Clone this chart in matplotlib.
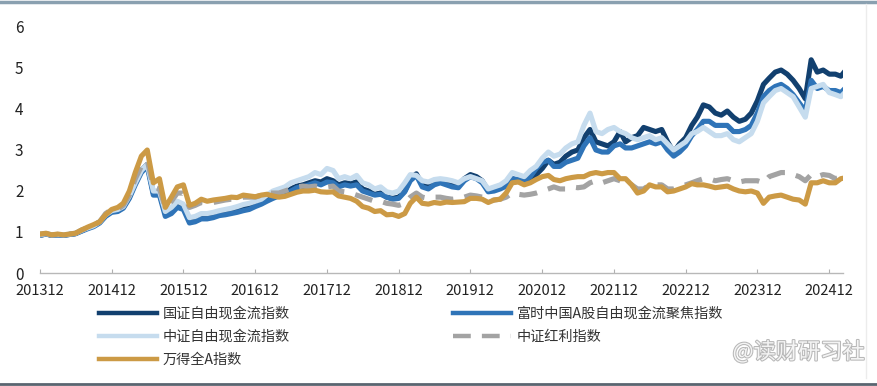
import numpy as np
import pandas as pd
import matplotlib.pyplot as plt
import matplotlib.patheffects as pe
from matplotlib.lines import Line2D

plt.rcParams['font.family'] = ['Noto Sans CJK SC', 'DejaVu Sans']

# monthly values, 2013-12 .. 2025-03
dates = pd.date_range('2013-12-31', periods=136, freq='ME')
tick_labels = ['201312', '201412', '201512', '201612', '201712', '201812',
               '201912', '202012', '202112', '202212', '202312', '202412']

guozheng_fcf = [
    0.92, 0.95, 0.92, 0.93, 0.92, 0.94, 0.96, 1.03, 1.10, 1.15, 1.25, 1.40, 1.50,
    1.52, 1.60, 1.85, 2.20, 2.50, 2.65, 1.95, 1.95, 1.45, 1.55, 1.70, 1.62,
    1.30, 1.30, 1.38, 1.38, 1.40, 1.45, 1.48, 1.50, 1.52, 1.57, 1.60, 1.65,
    1.70, 1.78, 1.85, 1.90, 1.95, 2.05, 2.12, 2.15, 2.20, 2.25, 2.22, 2.30,
    2.25, 2.15, 2.20, 2.18, 2.22, 2.05, 2.00, 1.92, 1.95, 1.85, 1.82, 1.85,
    2.00, 2.30, 2.42, 2.15, 2.10, 2.20, 2.25, 2.20, 2.15, 2.12, 2.30, 2.40,
    2.35, 2.25, 2.00, 2.05, 2.10, 2.15, 2.30, 2.25, 2.20, 2.25, 2.40, 2.55,
    2.75, 2.65, 2.70, 2.85, 2.95, 3.00, 3.30, 3.50, 3.20, 3.15, 3.10, 3.20,
    3.45, 3.20, 3.30, 3.35, 3.55, 3.50, 3.45, 3.50, 3.20, 2.95, 3.15, 3.30,
    3.60, 3.80, 4.10, 4.05, 3.90, 3.85, 3.95, 3.80, 3.70, 3.75, 3.90, 4.20,
    4.60, 4.75, 4.90, 4.95, 4.85, 4.70, 4.50, 4.25, 5.20, 4.90, 4.95, 4.85,
    4.85, 4.80, 4.98]

ftse_fcf = [
    0.92, 0.95, 0.92, 0.93, 0.92, 0.94, 0.96, 1.02, 1.08, 1.13, 1.22, 1.38, 1.48,
    1.50, 1.58, 1.82, 2.15, 2.45, 2.60, 1.90, 1.90, 1.38, 1.45, 1.60, 1.55,
    1.22, 1.25, 1.32, 1.32, 1.35, 1.40, 1.42, 1.45, 1.48, 1.52, 1.55, 1.62,
    1.68, 1.75, 1.82, 1.88, 1.92, 2.00, 2.08, 2.10, 2.15, 2.20, 2.15, 2.22,
    2.20, 2.10, 2.15, 2.12, 2.15, 2.00, 1.95, 1.90, 1.92, 1.85, 1.80, 1.82,
    1.98, 2.25, 2.38, 2.10, 2.05, 2.15, 2.20, 2.15, 2.10, 2.08, 2.25, 2.35,
    2.30, 2.20, 1.98, 2.00, 2.05, 2.12, 2.30, 2.28, 2.25, 2.35, 2.55, 2.70,
    2.75, 2.60, 2.60, 2.70, 2.75, 2.80, 3.10, 3.30, 3.00, 2.95, 2.95, 3.10,
    3.15, 3.05, 3.05, 3.10, 3.15, 3.20, 3.15, 3.20, 3.00, 2.85, 2.95, 3.10,
    3.35, 3.50, 3.70, 3.70, 3.60, 3.60, 3.60, 3.45, 3.45, 3.50, 3.60, 3.90,
    4.30, 4.45, 4.55, 4.60, 4.50, 4.35, 4.15, 3.95, 4.70, 4.50, 4.55, 4.45,
    4.45, 4.40, 4.55]

csi_fcf = [
    0.93, 0.96, 0.93, 0.94, 0.93, 0.95, 0.97, 1.04, 1.10, 1.15, 1.25, 1.42, 1.52,
    1.55, 1.62, 1.88, 2.20, 2.50, 2.65, 2.00, 2.00, 1.50, 1.60, 1.75, 1.68,
    1.35, 1.38, 1.45, 1.45, 1.48, 1.52, 1.55, 1.58, 1.62, 1.67, 1.70, 1.75,
    1.80, 1.90, 2.00, 2.05, 2.10, 2.20, 2.25, 2.30, 2.35, 2.45, 2.40, 2.55,
    2.50, 2.30, 2.35, 2.30, 2.38, 2.20, 2.15, 2.05, 2.10, 1.98, 1.95, 2.00,
    2.20, 2.40, 2.38, 2.25, 2.22, 2.28, 2.30, 2.28, 2.25, 2.20, 2.30, 2.35,
    2.30, 2.25, 2.05, 2.10, 2.15, 2.25, 2.45, 2.40, 2.35, 2.50, 2.60, 2.80,
    2.95, 2.85, 2.90, 3.05, 3.15, 3.20, 3.60, 3.90, 3.45, 3.40, 3.50, 3.55,
    3.45, 3.40, 3.30, 3.25, 3.30, 3.35, 3.25, 3.30, 3.15, 3.00, 3.10, 3.20,
    3.40, 3.45, 3.55, 3.45, 3.35, 3.35, 3.40, 3.25, 3.20, 3.30, 3.40, 3.70,
    4.15, 4.30, 4.45, 4.50, 4.40, 4.30, 4.05, 3.80, 4.50, 4.55, 4.60, 4.40,
    4.35, 4.30, 4.45]

csi_dividend = [
    0.95, 0.96, 0.93, 0.94, 0.93, 0.95, 0.97, 1.05, 1.10, 1.15, 1.25, 1.45, 1.55,
    1.55, 1.65, 1.90, 2.30, 2.60, 2.75, 2.10, 2.05, 1.60, 1.75, 1.95, 1.95,
    1.60, 1.65, 1.72, 1.70, 1.72, 1.75, 1.78, 1.80, 1.80, 1.85, 1.85, 1.85,
    1.90, 1.95, 1.95, 1.95, 2.00, 2.05, 2.10, 2.12, 2.10, 2.12, 2.10, 2.10,
    2.12, 2.00, 1.98, 1.95, 1.90, 1.85, 1.80, 1.75, 1.75, 1.70, 1.68, 1.65,
    1.70, 1.85, 1.95, 1.85, 1.82, 1.85, 1.85, 1.82, 1.80, 1.82, 1.85, 1.90,
    1.88, 1.85, 1.75, 1.78, 1.80, 1.85, 1.95, 1.92, 1.90, 1.92, 1.95, 2.00,
    2.05, 2.10, 2.05, 2.05, 2.10, 2.08, 2.10, 2.20, 2.25, 2.20, 2.25, 2.30,
    2.25, 2.20, 2.15, 2.05, 2.05, 2.15, 2.15, 2.15, 2.05, 2.05, 2.10, 2.15,
    2.20, 2.25, 2.30, 2.30, 2.25, 2.28, 2.30, 2.25, 2.22, 2.25, 2.25, 2.25,
    2.20, 2.35, 2.40, 2.45, 2.45, 2.40, 2.35, 2.25, 2.40, 2.35, 2.40, 2.38,
    2.30, 2.35, 2.38]

wind_all_a = [
    0.95, 0.97, 0.93, 0.95, 0.93, 0.95, 0.97, 1.05, 1.12, 1.18, 1.25, 1.42, 1.55,
    1.60, 1.70, 2.00, 2.45, 2.85, 3.00, 2.20, 2.30, 1.60, 1.85, 2.10, 2.15,
    1.65, 1.70, 1.80, 1.75, 1.78, 1.80, 1.82, 1.85, 1.84, 1.90, 1.88, 1.86,
    1.90, 1.92, 1.88, 1.85, 1.87, 1.92, 1.97, 2.00, 2.00, 2.02, 1.98, 1.97,
    1.98, 1.88, 1.85, 1.82, 1.75, 1.62, 1.58, 1.50, 1.52, 1.42, 1.43, 1.38,
    1.45, 1.70, 1.85, 1.70, 1.68, 1.72, 1.70, 1.73, 1.72, 1.73, 1.74, 1.82,
    1.82, 1.80, 1.72, 1.78, 1.80, 1.95, 2.20, 2.22, 2.15, 2.20, 2.28, 2.35,
    2.38, 2.28, 2.25, 2.30, 2.33, 2.35, 2.35, 2.42, 2.45, 2.42, 2.45, 2.45,
    2.30, 2.30, 2.15, 1.95, 2.00, 2.15, 2.10, 2.10, 1.98, 2.00, 2.05, 2.10,
    2.18, 2.15, 2.15, 2.12, 2.08, 2.10, 2.12, 2.05, 2.00, 1.98, 2.00, 1.95,
    1.70, 1.85, 1.88, 1.90, 1.85, 1.80, 1.78, 1.68, 2.20, 2.20, 2.25, 2.20,
    2.20, 2.30, 2.33]

fig = plt.figure(figsize=(8.78, 3.86), dpi=100)
ax = fig.add_axes([40 / 878, 1 - 273 / 386, 803 / 878, 246 / 386])

lw = 3.7
ax.plot(dates, guozheng_fcf, color='#12406f', lw=lw)
ax.plot(dates, ftse_fcf, color='#2f74b8', lw=lw)
ax.plot(dates, csi_fcf, color='#c6dcee', lw=lw)
ax.plot(dates, csi_dividend, color='#a3a3a3', lw=lw, dashes=(3.5, 2.2))
ax.plot(dates, wind_all_a, color='#cc9a45', lw=lw)

ax.set_ylim(0, 6)
ax.set_xlim(dates[0], dates[-1] - pd.Timedelta(days=20))
ax.set_yticks(range(7))
tick_dates = [dates[i] for i in range(0, 136, 12)]
ax.set_xticks(tick_dates)
ax.set_xticklabels(tick_labels)
ax.tick_params(axis='y', length=0, pad=12, labelsize=11, labelcolor='#222222')
ax.tick_params(axis='x', direction='in', length=3, color='#b0b0b0', pad=8,
               labelsize=10.5, labelcolor='#222222')
for s in ['top', 'right', 'left']:
    ax.spines[s].set_visible(False)
ax.spines['bottom'].set_color('#b8b8b8')
ax.spines['bottom'].set_linewidth(1)

leg_kw = dict(frameon=False, fontsize=10.2, handlelength=4.1, handletextpad=0.4,
              labelspacing=0.62, borderpad=0, borderaxespad=0, loc='upper left')
h1 = Line2D([], [], color='#12406f', lw=3.2)
h3 = Line2D([], [], color='#c6dcee', lw=3.2)
h5 = Line2D([], [], color='#cc9a45', lw=3.2)
h2 = Line2D([], [], color='#2f74b8', lw=3.2)
h4 = Line2D([], [], color='#a3a3a3', lw=3.2, dashes=(4, 2.5))
leg1 = fig.legend([h1, h3, h5], ['国证自由现金流指数', '中证自由现金流指数', '万得全A指数'],
                  bbox_to_anchor=(99 / 878, 1 - 307 / 386), **leg_kw)
leg2 = fig.legend([h2, h4], ['富时中国A股自由现金流聚焦指数', '中证红利指数'],
                  bbox_to_anchor=(453 / 878, 1 - 307 / 386), **leg_kw)
for leg in (leg1, leg2):
    for t in leg.get_texts():
        t.set_color('#333333')

# watermark
fig.text(0.985, 1 - 352 / 386, '@读财研习社', ha='right', va='center', fontsize=16,
         color='#f4f4f4', path_effects=[pe.withStroke(linewidth=1.5, foreground='#b8b8b8')])

# screenshot frame lines
fig.add_artist(Line2D([0, 1], [0.995, 0.995], color='#8aa0b0', lw=2.5, transform=fig.transFigure))
fig.add_artist(Line2D([0, 1], [0.004, 0.004], color='#5a6570', lw=2, transform=fig.transFigure))
fig.add_artist(Line2D([866 / 878, 866 / 878], [0.02, 0.99], color='#ececec', lw=1, transform=fig.transFigure))

fig.savefig('out.png', dpi=100)
